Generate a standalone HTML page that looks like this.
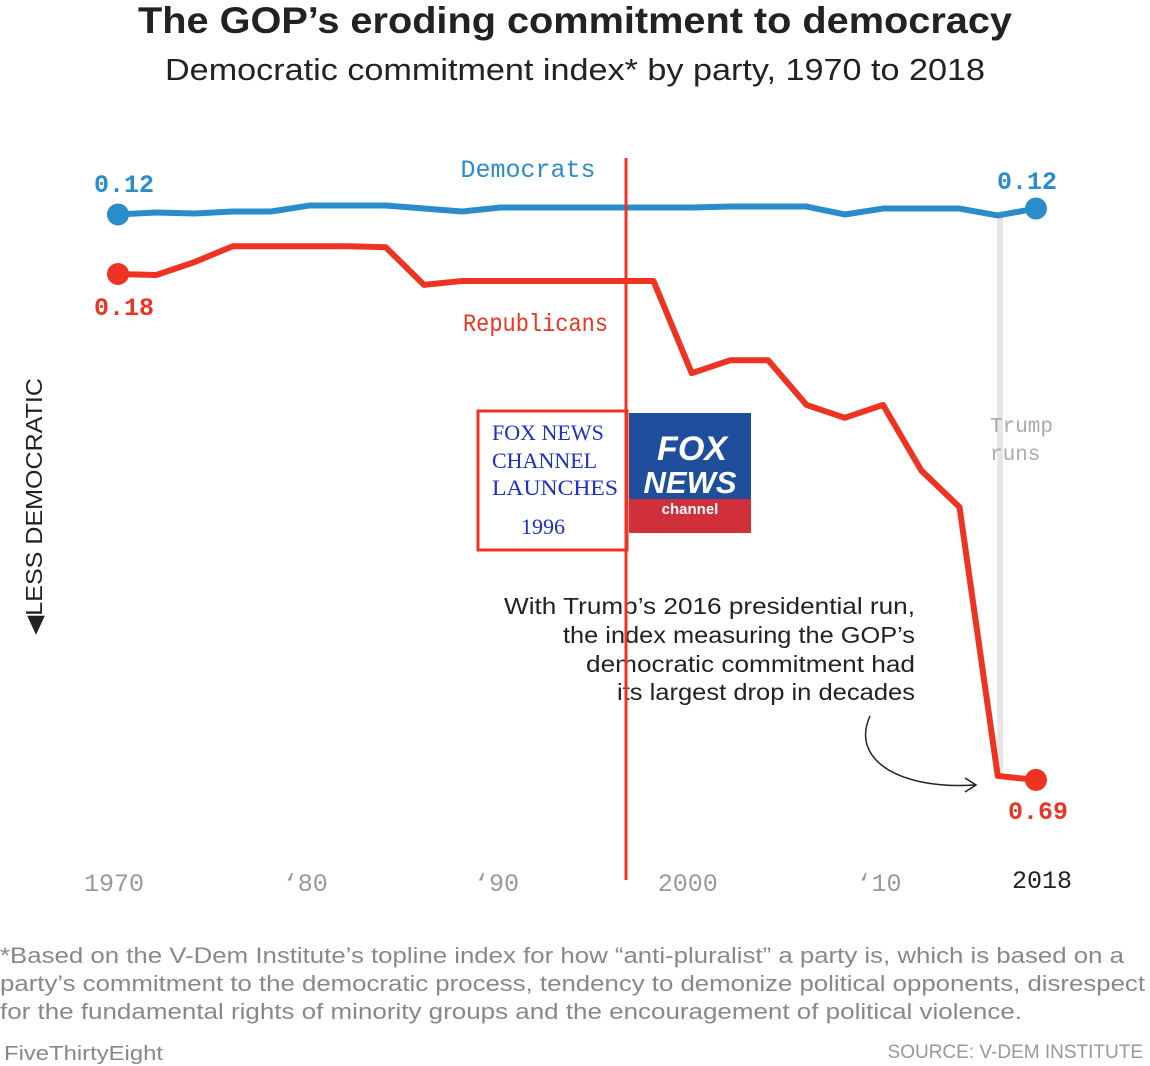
<!DOCTYPE html>
<html><head><meta charset="utf-8">
<style>
body{margin:0;background:#fff;width:1150px;height:1066px;overflow:hidden;font-family:"Liberation Sans",sans-serif;}
svg{display:block}
</style></head>
<body>
<svg width="1150" height="1066">
<text x="138" y="33" textLength="874" lengthAdjust="spacingAndGlyphs" font-size="37" font-weight="bold" fill="#222">The GOP’s eroding commitment to democracy</text>
<text x="165" y="80" textLength="820" lengthAdjust="spacingAndGlyphs" font-size="31" fill="#222">Democratic commitment index* by party, 1970 to 2018</text>
<line x1="1000" y1="215" x2="1000" y2="776" stroke="#e6e6e6" stroke-width="6"/>
<text x="990" y="432" font-family="Liberation Mono,monospace" font-size="21" fill="#aaa">Trump</text>
<text x="990" y="460" font-family="Liberation Mono,monospace" font-size="21" fill="#aaa">runs</text>
<g id="lines"></g>
<g id="xaxis" font-family="Liberation Mono,monospace" font-size="25" fill="#999"></g>
<text x="528" y="177" text-anchor="middle" font-family="Liberation Mono,monospace" font-size="25" fill="#2a8ccb">Democrats</text>
<text x="463" y="331" textLength="145" lengthAdjust="spacingAndGlyphs" font-family="Liberation Mono,monospace" font-size="25" fill="#ee3322">Republicans</text>
<text x="124" y="192" text-anchor="middle" font-family="Liberation Mono,monospace" font-weight="bold" font-size="25" fill="#2a8ccb">0.12</text>
<text x="1027" y="189" text-anchor="middle" font-family="Liberation Mono,monospace" font-weight="bold" font-size="25" fill="#2a8ccb">0.12</text>
<text x="124" y="315" text-anchor="middle" font-family="Liberation Mono,monospace" font-weight="bold" font-size="25" fill="#ee3322">0.18</text>
<text x="1038" y="819" text-anchor="middle" font-family="Liberation Mono,monospace" font-weight="bold" font-size="25" fill="#ee3322">0.69</text>
<text transform="translate(42,635) rotate(-90)" textLength="257" lengthAdjust="spacingAndGlyphs" font-size="23" fill="#222">◀LESS DEMOCRATIC</text>
<g font-size="23" fill="#222">
<text x="504" y="614" textLength="411" lengthAdjust="spacingAndGlyphs">With Trump’s 2016 presidential run,</text>
<text x="563" y="643" textLength="352" lengthAdjust="spacingAndGlyphs">the index measuring the GOP’s</text>
<text x="586" y="672" textLength="329" lengthAdjust="spacingAndGlyphs">democratic commitment had</text>
<text x="617" y="700" textLength="298" lengthAdjust="spacingAndGlyphs">its largest drop in decades</text>
</g>
<path d="M870,716 C850,760 900,790 975,785" fill="none" stroke="#222" stroke-width="1.5"/>
<path d="M965,778 L976,785 L965,792" fill="none" stroke="#222" stroke-width="1.5"/>
<rect x="478" y="411" width="149" height="139" fill="none" stroke="#ee3322" stroke-width="3"/>
<g font-family="Liberation Serif,serif" font-size="22" fill="#1a2fcc">
<text x="492" y="440">FOX NEWS</text>
<text x="492" y="468">CHANNEL</text>
<text x="492" y="495" textLength="126" lengthAdjust="spacingAndGlyphs">LAUNCHES</text>
<text x="521" y="534">1996</text>
</g>
<g>
<rect x="629" y="413" width="122" height="86" fill="#1f4e9c"/>
<rect x="629" y="499" width="122" height="34" fill="#d1303a"/>
<text x="692" y="460" text-anchor="middle" font-weight="bold" font-size="34" fill="#fff" font-style="italic">FOX</text>
<text x="690" y="493" text-anchor="middle" font-weight="bold" font-size="31" fill="#fff" font-style="italic">NEWS</text>
<text x="690" y="514" text-anchor="middle" font-weight="bold" font-size="15" fill="#fff">channel</text>
</g>
<line x1="626" y1="158" x2="626" y2="880" stroke="#ee3322" stroke-width="3"/>
<g font-size="22" fill="#888">
<text x="0" y="963" textLength="1124" lengthAdjust="spacingAndGlyphs">*Based on the V-Dem Institute’s topline index for how “anti-pluralist” a party is, which is based on a</text>
<text x="0" y="991" textLength="1145" lengthAdjust="spacingAndGlyphs">party’s commitment to the democratic process, tendency to demonize political opponents, disrespect</text>
<text x="0" y="1019" textLength="1022" lengthAdjust="spacingAndGlyphs">for the fundamental rights of minority groups and the encouragement of political violence.</text>
</g>
<text x="4" y="1060" textLength="159" lengthAdjust="spacingAndGlyphs" font-size="20" fill="#888">FiveThirtyEight</text>
<text x="1143" y="1058" text-anchor="end" font-size="19" fill="#999">SOURCE: V-DEM INSTITUTE</text>
</svg>
<script>
const years=[1970,1972,1974,1976,1978,1980,1982,1984,1986,1988,1990,1992,1994,1996,1998,2000,2002,2004,2006,2008,2010,2012,2014,2016,2018];
const demValues=[0.12,0.118,0.119,0.117,0.117,0.111,0.111,0.111,0.114,0.117,0.113,0.113,0.113,0.113,0.113,0.113,0.112,0.112,0.112,0.12,0.114,0.114,0.114,0.121,0.114];
const repValues=[0.18,0.181,0.168,0.152,0.152,0.152,0.152,0.153,0.191,0.187,0.187,0.187,0.187,0.187,0.187,0.28,0.267,0.267,0.312,0.325,0.312,0.378,0.415,0.686,0.69];
const tickYears=[1970,1980,1990,2000,2010,2018];
const tickLabels=["1970","‘80","‘90","2000","‘10","2018"];
const NS="http://www.w3.org/2000/svg";
function xs(y){return 118+(y-1970)*(918/48);}
function ys(v){return 274+(v-0.18)*992;}
const g=document.getElementById('lines');
function series(vals,color,name){
  const p=document.createElementNS(NS,'path');
  p.setAttribute('d',vals.map((v,i)=>(i?'L':'M')+xs(years[i])+','+ys(v)).join(''));
  p.setAttribute('fill','none');p.setAttribute('stroke',color);p.setAttribute('stroke-width','6');p.setAttribute('stroke-linejoin','round');
  
  
  g.appendChild(p);
  [0,vals.length-1].forEach(i=>{
    const c=document.createElementNS(NS,'circle');
    c.setAttribute('cx',xs(years[i]));c.setAttribute('cy',ys(vals[i]));c.setAttribute('r','11');c.setAttribute('fill',color);
    
    
    g.appendChild(c);
  });
}
series(demValues,'#2a8ccb','democrats');
series(repValues,'#ee3322','republicans');
const xa=document.getElementById('xaxis');
tickYears.forEach((y,i)=>{
  const t=document.createElementNS(NS,'text');
  t.setAttribute('x',xs(y)-(i===5?-6:4));t.setAttribute('y',i===5?888:891);t.setAttribute('text-anchor','middle');
  if(i===5){t.setAttribute('fill','#222');}
  t.textContent=tickLabels[i];
  
  
  xa.appendChild(t);
});
</script>
</body></html>
